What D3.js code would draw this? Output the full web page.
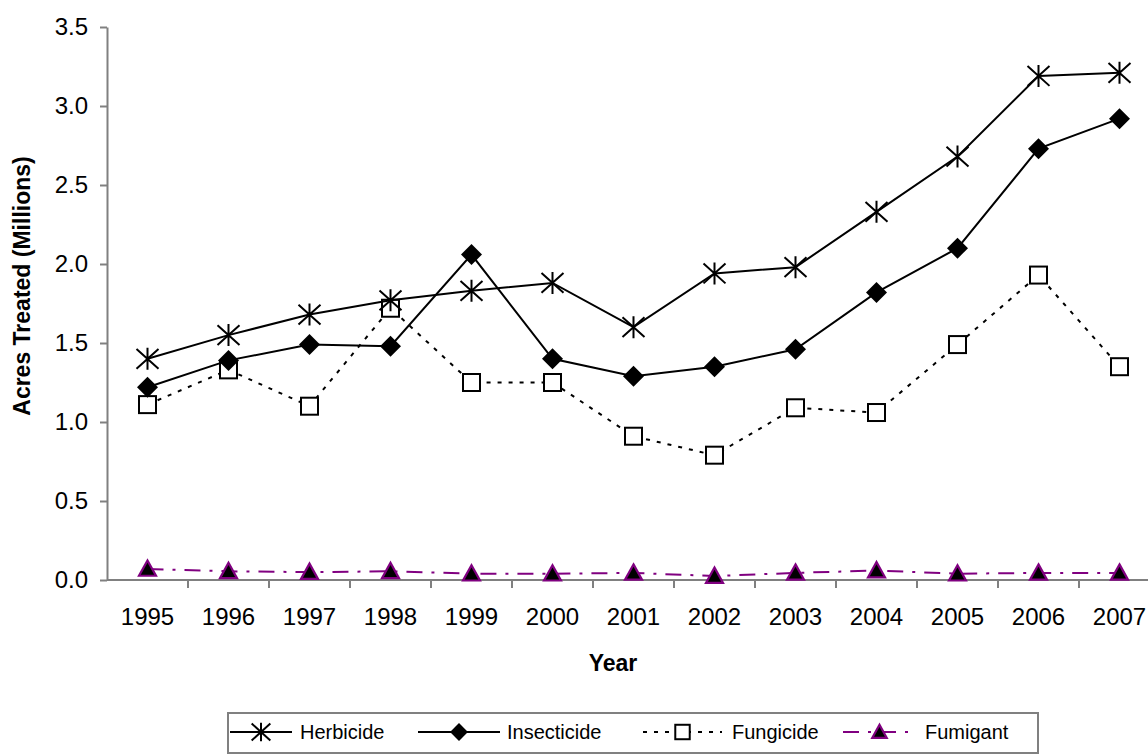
<!DOCTYPE html>
<html>
<head>
<meta charset="utf-8">
<script src="https://cdn.jsdelivr.net/npm/d3@7"></script>
<style>
  html, body { margin: 0; padding: 0; background: #fff; }
  svg { display: block; font-family: "Liberation Sans", Arial, sans-serif; }
</style>
</head>
<body>
<svg id="chart" width="1148" height="755"></svg>
<script>
// Pesticide acres treated, millions
const years = [1995, 1996, 1997, 1998, 1999, 2000, 2001, 2002, 2003, 2004, 2005, 2006, 2007];
const herbicide   = [1.40, 1.55, 1.68, 1.77, 1.83, 1.88, 1.60, 1.94, 1.98, 2.33, 2.68, 3.19, 3.21];
const insecticide = [1.22, 1.39, 1.49, 1.48, 2.06, 1.40, 1.29, 1.35, 1.46, 1.82, 2.10, 2.73, 2.92];
const fungicide   = [1.11, 1.33, 1.10, 1.72, 1.25, 1.25, 0.91, 0.79, 1.09, 1.06, 1.49, 1.93, 1.35];
const fumigant    = [0.07, 0.055, 0.05, 0.055, 0.04, 0.04, 0.045, 0.025, 0.045, 0.06, 0.04, 0.045, 0.045];
const yTicks = [0, 0.5, 1.0, 1.5, 2.0, 2.5, 3.0, 3.5];
const seriesNames = ["Herbicide", "Insecticide", "Fungicide", "Fumigant"];

const svg = d3.select("#chart");

const x = d3.scaleBand().domain(years).range([107, 1160]);
const y = d3.scaleLinear().domain([0, 3.5]).range([580, 27]);
const cx = d => x(d) + x.bandwidth() / 2;

const axisColor = "#808080";

// Y axis
const yAxis = d3.axisLeft(y).tickValues(yTicks).tickFormat(d3.format(".1f")).tickSizeOuter(0).tickSizeInner(7).tickPadding(12);
const gy = svg.append("g").attr("transform", "translate(107,0)").call(yAxis);
gy.select(".domain").attr("stroke", axisColor).attr("stroke-width", 2);
gy.selectAll(".tick line").attr("stroke", axisColor).attr("stroke-width", 2);
gy.selectAll(".tick text").attr("font-size", 24).attr("fill", "#000").attr("font-family", "Liberation Sans, Arial, sans-serif");

// X axis: labels centred in each year band, ticks on band edges
const xAxis = d3.axisBottom(x).tickSize(0).tickPadding(28);
const gx = svg.append("g").attr("transform", "translate(0,580)").call(xAxis);
gx.select(".domain").remove();
gx.selectAll(".tick text").attr("font-size", 24).attr("fill", "#000").attr("font-family", "Liberation Sans, Arial, sans-serif");
svg.append("line").attr("x1", 107).attr("x2", 1160).attr("y1", 580).attr("y2", 580)
  .attr("stroke", axisColor).attr("stroke-width", 2);
const edges = years.slice(1).map(v => x(v));
edges.push(x(years[years.length - 1]) + x.bandwidth());
svg.append("g").selectAll("line").data(edges).join("line")
  .attr("x1", d => d).attr("x2", d => d).attr("y1", 580).attr("y2", 588)
  .attr("stroke", axisColor).attr("stroke-width", 2);

// Axis titles
svg.append("text").attr("x", 613).attr("y", 671).attr("text-anchor", "middle")
  .attr("font-size", 23).attr("font-weight", "bold").text("Year");
svg.append("text").attr("transform", "translate(30,286) rotate(-90)").attr("text-anchor", "middle")
  .attr("font-size", 23).attr("font-weight", "bold").text("Acres Treated (Millions)");

// Marker drawing helpers
function asterisk(g, px, py, r) {
  g.append("path")
    .attr("d", `M${px - r},${py - r * 0.9}L${px + r},${py + r * 0.9}M${px - r},${py + r * 0.9}L${px + r},${py - r * 0.9}M${px},${py - r}L${px},${py + r}`)
    .attr("stroke", "#000").attr("stroke-width", 2).attr("fill", "none");
}
function diamond(g, px, py, r) {
  g.append("path").attr("d", `M${px},${py - r}L${px + r},${py}L${px},${py + r}L${px - r},${py}Z`).attr("fill", "#000");
}
function square(g, px, py, r) {
  g.append("rect").attr("x", px - r).attr("y", py - r).attr("width", 2 * r).attr("height", 2 * r)
    .attr("fill", "#fff").attr("stroke", "#000").attr("stroke-width", 2);
}
function triangle(g, px, py, r) {
  g.append("path").attr("d", `M${px},${py - r}L${px + r},${py + r * 0.8}L${px - r},${py + r * 0.8}Z`)
    .attr("fill", "#000").attr("stroke", "#800080").attr("stroke-width", 2.2).attr("stroke-linejoin", "miter");
}

const styles = [
  { data: herbicide,   color: "#000",    dash: null,          marker: asterisk, r: 11 },
  { data: insecticide, color: "#000",    dash: null,          marker: diamond,  r: 10.5 },
  { data: fungicide,   color: "#000",    dash: "4,7",         marker: square,   r: 8.5 },
  { data: fumigant,    color: "#800080", dash: "16,9,3,9",    marker: triangle, r: 8.5 }
];

const line = d3.line().x((d, i) => cx(years[i])).y(d => y(d));

// Draw series lines then markers (fumigant first so other series sit on top)
[3, 2, 1, 0].forEach(k => {
  const s = styles[k];
  const g = svg.append("g");
  g.append("path").datum(s.data).attr("d", line)
    .attr("fill", "none").attr("stroke", s.color).attr("stroke-width", 2)
    .attr("stroke-dasharray", s.dash);
  s.data.forEach((v, i) => s.marker(g, cx(years[i]), y(v), s.r));
});

// Legend
const lg = svg.append("g");
lg.append("rect").attr("x", 228).attr("y", 713).attr("width", 810).attr("height", 40)
  .attr("fill", "#fff").attr("stroke", axisColor).attr("stroke-width", 2);
const legendItems = [
  { x1: 230, x2: 292, tx: 300 },
  { x1: 418, x2: 500, tx: 507 },
  { x1: 643, x2: 722, tx: 732 },
  { x1: 843, x2: 916, tx: 925 }
];
legendItems.forEach((it, k) => {
  const s = styles[k];
  const ly = 732;
  lg.append("line").attr("x1", it.x1).attr("x2", it.x2).attr("y1", ly).attr("y2", ly)
    .attr("stroke", s.color).attr("stroke-width", 2).attr("stroke-dasharray", s.dash);
  s.marker(lg, (it.x1 + it.x2) / 2, ly, s.r * 0.85);
  lg.append("text").attr("x", it.tx).attr("y", ly + 7).attr("font-size", 20).attr("fill", "#000").text(seriesNames[k]);
});
</script>
</body>
</html>
